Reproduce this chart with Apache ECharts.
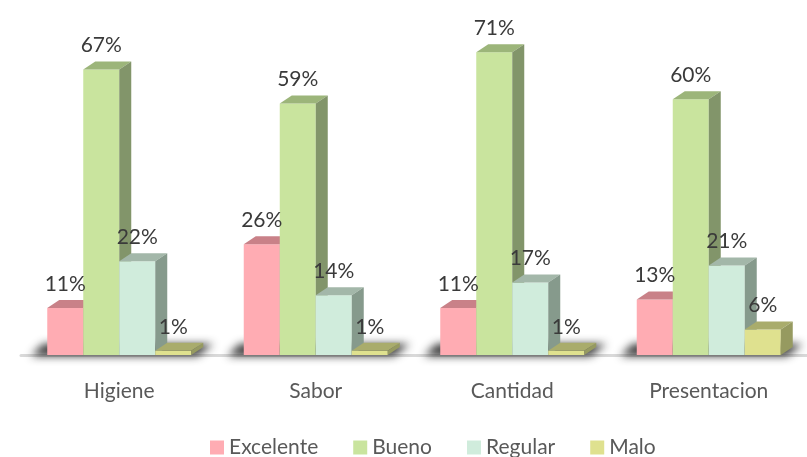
<!DOCTYPE html>
<html>
<head>
<meta charset="utf-8">
<script src="https://cdn.jsdelivr.net/npm/echarts@6/dist/echarts.min.js"></script>
<style>
  html, body { margin: 0; padding: 0; background: #ffffff; }
  #chart { width: 807px; height: 457px; }
</style>
</head>
<body>
<div id="chart"></div>
<script>
// Survey results per aspect (percent of answers)
const categories = ['Higiene', 'Sabor', 'Cantidad', 'Presentacion'];
const seriesNames = ['Excelente', 'Bueno', 'Regular', 'Malo'];
const excelente = [11, 26, 11, 13];
const bueno = [67, 59, 71, 60];
const regular = [22, 14, 17, 21];
const malo = [1, 1, 1, 6];

// Face colours for each series: front, top, side
const palette = [
  { front: '#FFACB3', top: '#C98188', side: '#B8767C' },
  { front: '#C9E49E', top: '#9CB57A', side: '#82956A' },
  { front: '#D0ECDC', top: '#A3B7A9', side: '#869A8C' },
  { front: '#DFE18F', top: '#A9AC6C', side: '#969A60' }
];

const BAR_W = 36;   // front face width
const DX = 12;      // depth offset, horizontal
const DY = 8;       // depth offset, vertical

function makeBarRenderer(idx) {
  const c = palette[idx];
  return function (params, api) {
    const cat = api.value(0);
    const val = api.value(1);
    const base = api.coord([cat, 0]);
    const top = api.coord([cat, val]);
    const x0 = base[0] - 2 * BAR_W + idx * BAR_W;
    const x1 = x0 + BAR_W;
    const yb = base[1];
    const yt = top[1];
    return {
      type: 'group',
      children: [
        {
          type: 'rect',
          shape: { x: x0, y: yt, width: BAR_W, height: yb - yt },
          style: { fill: c.front }
        },
        {
          type: 'polygon',
          shape: { points: [[x0, yt], [x1, yt], [x1 + DX, yt - DY], [x0 + DX, yt - DY]] },
          style: { fill: c.top }
        },
        {
          type: 'polygon',
          shape: { points: [[x1, yt], [x1 + DX, yt - DY], [x1 + DX, yb - DY], [x1, yb]] },
          style: { fill: c.side }
        },
        {
          type: 'text',
          z2: 100,
          style: {
            x: x0 + BAR_W / 2,
            y: yt - 24,
            text: val + '%',
            align: 'center',
            verticalAlign: 'middle',
            fontFamily: 'Lato',
            fontSize: 21,
            fill: '#3a3a3a'
          }
        }
      ]
    };
  };
}

// Soft floor shadow under each group of bars
function renderFloorShadow(params, api) {
  const cat = api.value(0);
  const base = api.coord([cat, 0]);
  const xl = base[0] - 2 * BAR_W - 16;
  const xr = base[0] + 2 * BAR_W + 6;
  const yb = base[1];
  const off = 2000;
  return {
    type: 'polygon',
    shape: {
      points: [
        [xl, yb + 1 - off], [xr, yb + 1 - off],
        [xr + DX + 4, yb - DY - 3 - off], [xl + DX, yb - DY - 3 - off]
      ]
    },
    style: {
      fill: '#000',
      shadowColor: 'rgba(20,20,20,0.85)',
      shadowBlur: 9,
      shadowOffsetX: 0,
      shadowOffsetY: off
    }
  };
}

const valueLists = [excelente, bueno, regular, malo];

const series = [{
  type: 'custom',
  name: 'floor',
  z: 1,
  silent: true,
  renderItem: renderFloorShadow,
  encode: { x: 0, y: 1 },
  data: categories.map((_, i) => [i, 0])
}];

seriesNames.forEach((name, idx) => {
  series.push({
    type: 'custom',
    name: name,
    z: 2,
    itemStyle: { color: palette[idx].front },
    renderItem: makeBarRenderer(idx),
    encode: { x: 0, y: 1 },
    data: valueLists[idx].map((v, i) => [i, v])
  });
});

const chart = echarts.init(document.getElementById('chart'));
chart.setOption({
  animation: false,
  backgroundColor: '#ffffff',
  grid: { left: 21, width: 794, top: 14, bottom: 102 },
  xAxis: {
    type: 'category',
    data: categories,
    offset: 7,
    axisTick: { show: false },
    axisLine: { lineStyle: { color: '#d9d9d9', width: 3 } },
    axisLabel: { margin: 19, fontFamily: 'Lato', fontSize: 21, color: '#595959' }
  },
  yAxis: {
    type: 'value',
    min: 0,
    max: 80,
    show: false,
    splitLine: { show: false }
  },
  legend: {
    data: seriesNames,
    left: 205,
    top: 432,
    icon: 'rect',
    itemWidth: 14,
    itemHeight: 14,
    itemGap: 35,
    textStyle: { fontFamily: 'Lato', fontSize: 21, color: '#595959' }
  },
  series: series
});
</script>
</body>
</html>
